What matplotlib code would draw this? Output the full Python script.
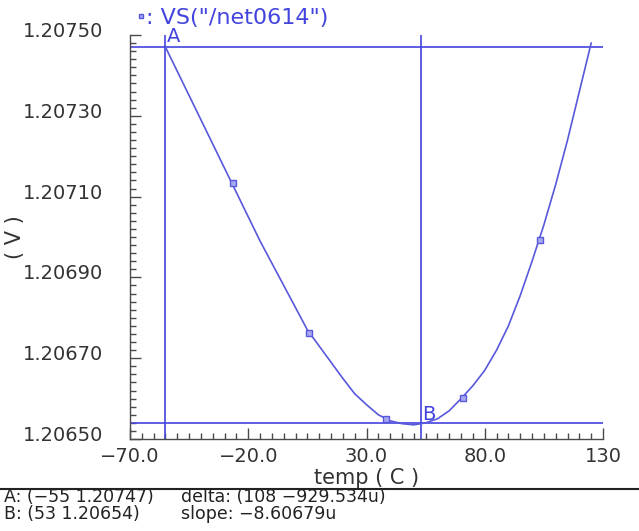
import matplotlib
matplotlib.use("Agg")
import matplotlib.pyplot as plt
import matplotlib.transforms as mtransforms
from matplotlib.lines import Line2D
from matplotlib.ticker import MultipleLocator

# ================= Data =================
temp = [-55, -50, -45, -40, -35, -30, -25, -20, -15, -10, -5, 0, 5, 10, 15, 20, 25, 30,
        35, 40, 45, 50, 55, 60, 65, 70, 75, 80, 85, 90, 95, 100, 105, 110, 115, 120, 125]
vs_net0614 = [1.207470, 1.207410, 1.207350, 1.207290, 1.207230, 1.207170, 1.207110,
              1.207050, 1.206990, 1.206935, 1.206880, 1.206825, 1.206770, 1.206730,
              1.206690, 1.206650, 1.206612, 1.206585, 1.206560, 1.206545, 1.206538,
              1.206535, 1.206540, 1.206550, 1.206570, 1.206600, 1.206632, 1.206670,
              1.206720, 1.206780, 1.206855, 1.206940, 1.207030, 1.207130, 1.207240,
              1.207360, 1.207480]

# small square markers drawn along the trace
marker_temp = [-26.4, 5.7, 38.3, 70.6, 103.4]
marker_vs = [1.207134, 1.206762, 1.20655, 1.206601, 1.206993]

# cursors A and B
cursor_a = (-55, 1.20747)
cursor_b = (53, 1.20654)

xticks = [-70, -20, 30, 80, 130]
xtick_labels = ['\u221270.0', '\u221220.0', '30.0', '80.0', '130']
yticks = [1.20650, 1.20670, 1.20690, 1.20710, 1.20730, 1.20750]
ytick_labels = ['1.20650', '1.20670', '1.20690', '1.20710', '1.20730', '1.20750']

trace_name = 'VS("/net0614")'
readout_a = 'A: (\u221255 1.20747)'
readout_b = 'B: (53 1.20654)'
readout_delta = 'delta: (108 \u2212929.534u)'
readout_slope = 'slope: \u22128.60679u'

# ================= Style =================
TRACE = '#5858dc'
CURSOR = '#4343dd'
AXIS = '#4a4a4a'
W, H = 639, 531

fig = plt.figure(figsize=(W / 100, H / 100), dpi=100)
ax = fig.add_axes([130 / W, 1 - 439 / H, 473 / W, 404 / H])

ax.plot(temp, vs_net0614, color=TRACE, lw=1.2, zorder=3)
ax.plot(marker_temp, marker_vs, ls='none', marker='s', ms=4, mfc='#a8a8f0',
        mec=TRACE, mew=1.0, zorder=4)

# cursor lines
ax.axvline(cursor_a[0], color=CURSOR, lw=1.2, zorder=2)
ax.axhline(cursor_a[1], color=CURSOR, lw=1.2, zorder=2)
ax.axvline(cursor_b[0], color=CURSOR, lw=1.2, zorder=2)
ax.axhline(cursor_b[1], color=CURSOR, lw=1.2, zorder=2)
ax.annotate('A', xy=cursor_a, xytext=(1, 0.5), textcoords='offset points',
            color=CURSOR, fontsize=14, ha='left', va='bottom')
ax.annotate('B', xy=cursor_b, xytext=(1, -1), textcoords='offset points',
            color=CURSOR, fontsize=14, ha='left', va='bottom')

ax.set_xlim(-70, 130)
ax.set_ylim(1.20650, 1.20750)

for side in ['top', 'right']:
    ax.spines[side].set_visible(False)
for side in ['left', 'bottom']:
    ax.spines[side].set_color(AXIS)
    ax.spines[side].set_linewidth(1.0)

ax.set_xticks(xticks)
ax.set_xticklabels(xtick_labels)
ax.set_yticks(yticks)
ax.set_yticklabels(ytick_labels)
ax.xaxis.set_minor_locator(MultipleLocator(5))
ax.yaxis.set_minor_locator(MultipleLocator(0.00002))

ax.tick_params(which='both', direction='in', color=AXIS, width=1.0)
ax.tick_params(which='major', length=8)
ax.tick_params(which='minor', length=4)
ax.tick_params(axis='x', which='major', labelsize=14, labelcolor='#333333', pad=6)
ax.tick_params(axis='y', which='major', labelsize=14, labelcolor='#333333', pad=19.5)

# y labels sit a little above their ticks
shift = mtransforms.ScaledTranslation(0, 4 / 72, fig.dpi_scale_trans)
for lab in ax.get_yticklabels():
    lab.set_transform(lab.get_transform() + shift)

ax.set_xlabel('temp ( C )', fontsize=15, color='#333333', labelpad=1)
ax.set_ylabel('( V )', fontsize=15, color='#333333')
ax.yaxis.set_label_coords(-0.222, 0.5)

# trace legend at the top
fig.add_artist(Line2D([140.5 / W], [1 - 15.5 / H], marker='s', ms=3.5, mfc='#a8a8f0',
                      mec=TRACE, mew=1.0, ls='none', transform=fig.transFigure))
fig.text(146 / W, 1 - 18 / H, ': ' + trace_name, color=CURSOR, fontsize=16,
         ha='left', va='center')

# cursor readout below a rule
fig.add_artist(Line2D([0, 1], [1 - 489 / H, 1 - 489 / H], color='#222222', lw=1.5,
                      transform=fig.transFigure))
fig.text(4 / W, 1 - 497 / H, readout_a, fontsize=12.5, color='#222222', va='center')
fig.text(4 / W, 1 - 514 / H, readout_b, fontsize=12.5, color='#222222', va='center')
fig.text(181 / W, 1 - 497 / H, readout_delta, fontsize=12.5, color='#222222', va='center')
fig.text(181 / W, 1 - 514 / H, readout_slope, fontsize=12.5, color='#222222', va='center')

fig.savefig('out.png', dpi=100)
